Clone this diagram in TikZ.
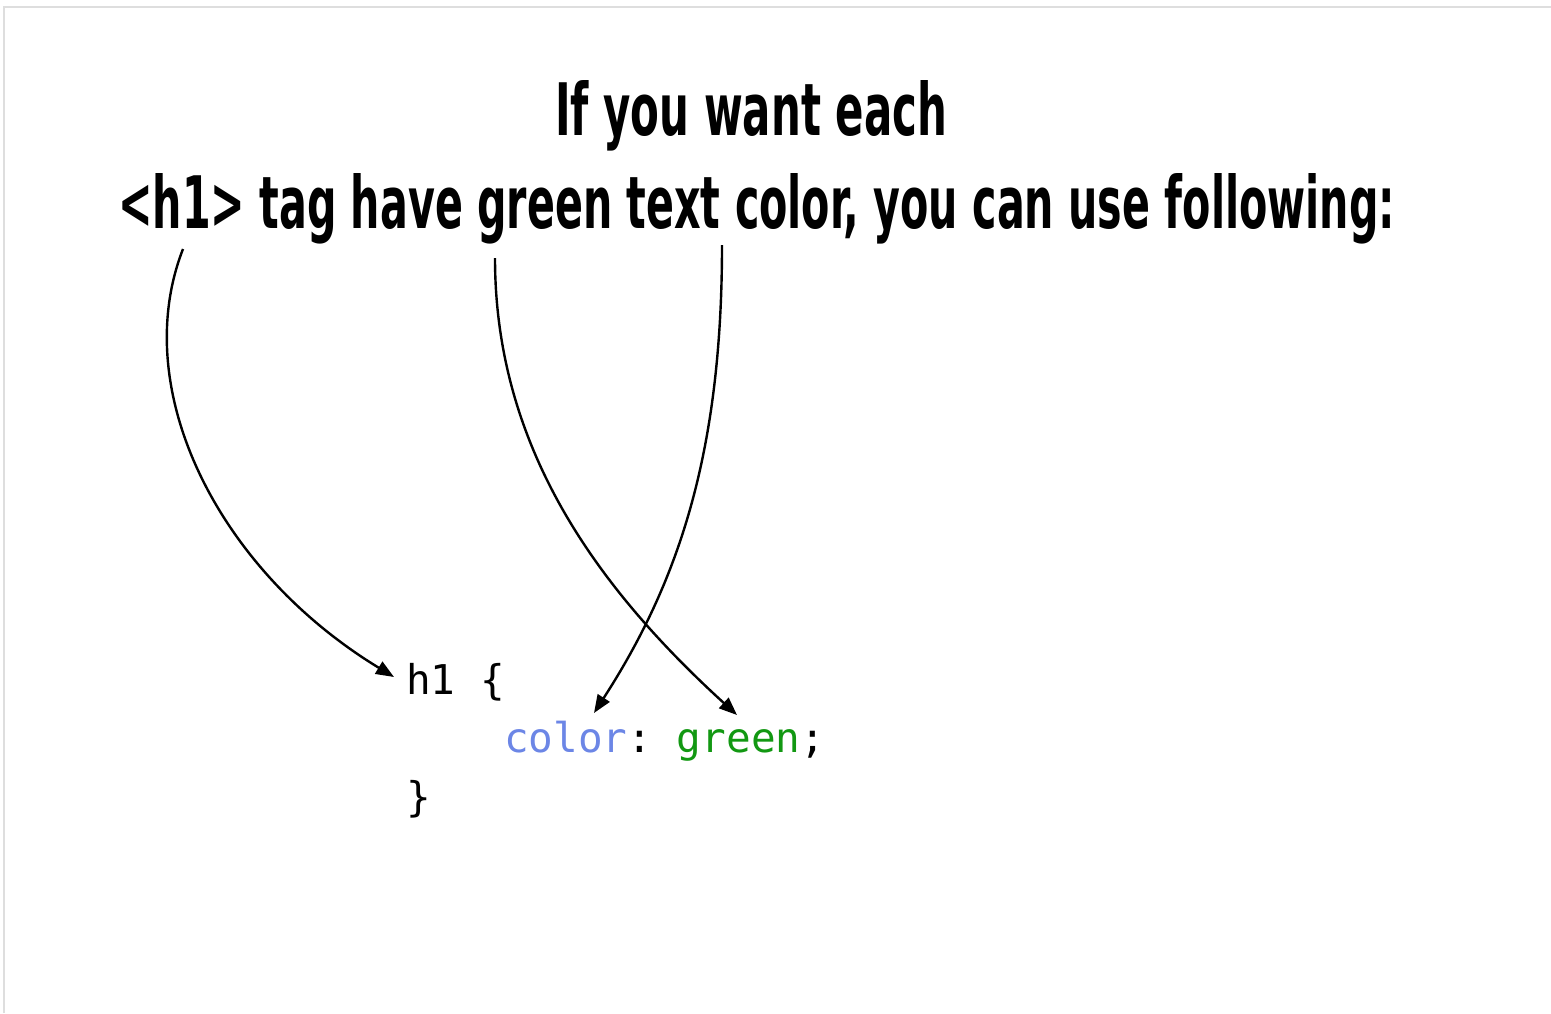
\documentclass[tikz,border=0pt]{standalone}
\usepackage{fontspec}
\usetikzlibrary{arrows.meta}
\newfontfamily\titlefont{DejaVu Sans Condensed}[BoldFont={DejaVu Sans Condensed Bold}]
\setmonofont{DejaVu Sans Mono}
\definecolor{propblue}{RGB}{108,134,230}
\definecolor{valgreen}{RGB}{18,152,18}
\definecolor{frame}{RGB}{222,222,222}
\tikzset{
  titletext/.style={inner sep=0pt, anchor=base west, font=\titlefont\bfseries\fontsize{75}{80}\selectfont},
  codetext/.style={inner sep=0pt, anchor=base west, font=\ttfamily\fontsize{41}{48}\selectfont},
  pointer/.style={line width=2.4pt, -{Triangle[length=18pt,width=14pt]}}
}
\begin{document}
\begin{tikzpicture}[x=1pt,y=-1pt]
\useasboundingbox (0,0) rectangle (1551,1013);
\draw[frame, line width=1.5pt] (4,1013) -- (4,7) -- (1551,7);
% title
\node[titletext] (t1) at (555,135) {\resizebox{392pt}{55pt}{If you want each}};
\node[titletext] (t2) at (118,228) {\resizebox{1277pt}{55pt}{<h1> tag have green text color, you can use following:}};
% code
\node[codetext] (c1) at (406,694) {h1 \{};
\node[codetext] (c2) at (504,752) {\textcolor{propblue}{color}: \textcolor{valgreen}{green};};
\node[codetext] (c3) at (406,811) {\}};
% pointer ends
\coordinate (sH) at (183,249);
\coordinate (sG) at (495,258);
\coordinate (sC) at (722,245);
\coordinate (eH) at (394,677);
\coordinate (eG) at (737,715);
\coordinate (eC) at (594,713);
\draw[pointer] (sH) .. controls (128,390) and (218,570) .. (eH);
\draw[pointer] (sG) .. controls (495,450) and (600,590) .. (eG);
\draw[pointer] (sC) .. controls (722,450) and (680,580) .. (eC);
\end{tikzpicture}
\end{document}
